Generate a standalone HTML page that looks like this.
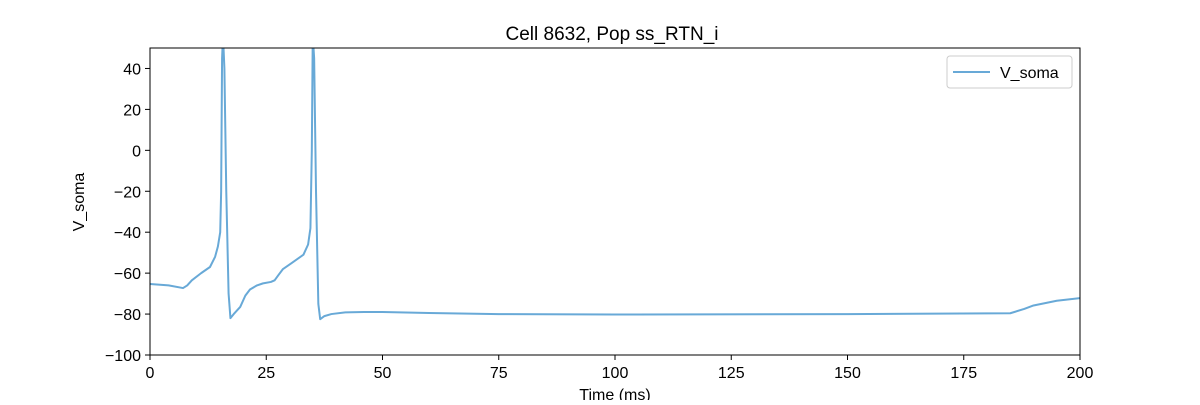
<!DOCTYPE html>
<html><head><meta charset="utf-8"><style>
body{margin:0;background:#fff;width:1200px;height:400px;overflow:hidden}
svg text{font-family:"Liberation Sans","DejaVu Sans",sans-serif;fill:#000}
</style></head><body>
<svg width="1200" height="400">
<defs><clipPath id="cp"><rect x="150" y="48" width="930" height="307"/></clipPath></defs>
<text x="612" y="40" font-size="19" text-anchor="middle">Cell 8632, Pop ss_RTN_i</text>
<g id="ticks"></g>
<polyline id="trace" clip-path="url(#cp)" fill="none" stroke="#68a9d7" stroke-width="2" stroke-linejoin="round"/>
<rect x="150" y="48" width="930" height="307" fill="none" stroke="#000" stroke-width="1"/>
<text x="84" y="202" font-size="16" text-anchor="middle" transform="rotate(-90 84 202)">V_soma</text>
<text x="615" y="400" font-size="16" text-anchor="middle">Time (ms)</text>
<g>
<rect x="947" y="56" width="125" height="32" rx="3" fill="#fff" stroke="#ccc"/>
<line x1="953" y1="72" x2="990" y2="72" stroke="#68a9d7" stroke-width="2"/>
<text x="1000" y="78" font-size="16">V_soma</text>
</g>
</svg>
<script>
const times=[0,4,7.1,8,9,11,12.9,14,14.6,15.1,15.3,15.5,15.7,16.0,16.4,16.9,17.3,18,19.4,20.5,21.5,23,24.3,26,26.8,27.6,28.6,30.5,33,34,34.5,34.8,35.0,35.3,35.7,36.2,36.6,37.5,39,42,46,50,60,75,100,150,185,188,190,195,200];
const volts=[-65.3,-66,-67.3,-66,-63.5,-60,-57,-52,-47,-40,-20,45,56,40,-20,-70,-82,-80,-76.5,-71,-68,-66,-65,-64.3,-63.5,-61,-58,-55,-51,-46,-38,0,56,45,-20,-75,-82.5,-81,-80,-79.2,-79,-79,-79.5,-80,-80.2,-80,-79.6,-77.5,-75.8,-73.5,-72.2];
const xTicks=[0,25,50,75,100,125,150,175,200];
const yTicks=[-100,-80,-60,-40,-20,0,20,40];
const X=t=>150+t*930/200, Y=v=>48+(50-v)*307/150;
const ns="http://www.w3.org/2000/svg",g=document.getElementById('ticks');
function mk(tag,a){const e=document.createElementNS(ns,tag);for(const k in a)e.setAttribute(k,a[k]);g.appendChild(e);return e;}
xTicks.forEach(t=>{const l=mk('line',{x1:X(t),x2:X(t),y1:355,y2:360,stroke:'#000'});


const s=mk('text',{x:X(t),y:378,'font-size':16,'text-anchor':'middle'});s.textContent=t;

});
yTicks.forEach(v=>{const l=mk('line',{x1:145,x2:150,y1:Y(v),y2:Y(v),stroke:'#000'});


const s=mk('text',{x:141,y:Y(v)+6,'font-size':16,'text-anchor':'end'});s.textContent=v<0?'\u2212'+(-v):v;

});
document.getElementById('trace').setAttribute('points',times.map((t,i)=>X(t)+','+Y(volts[i])).join(' '));
</script>
</body></html>
